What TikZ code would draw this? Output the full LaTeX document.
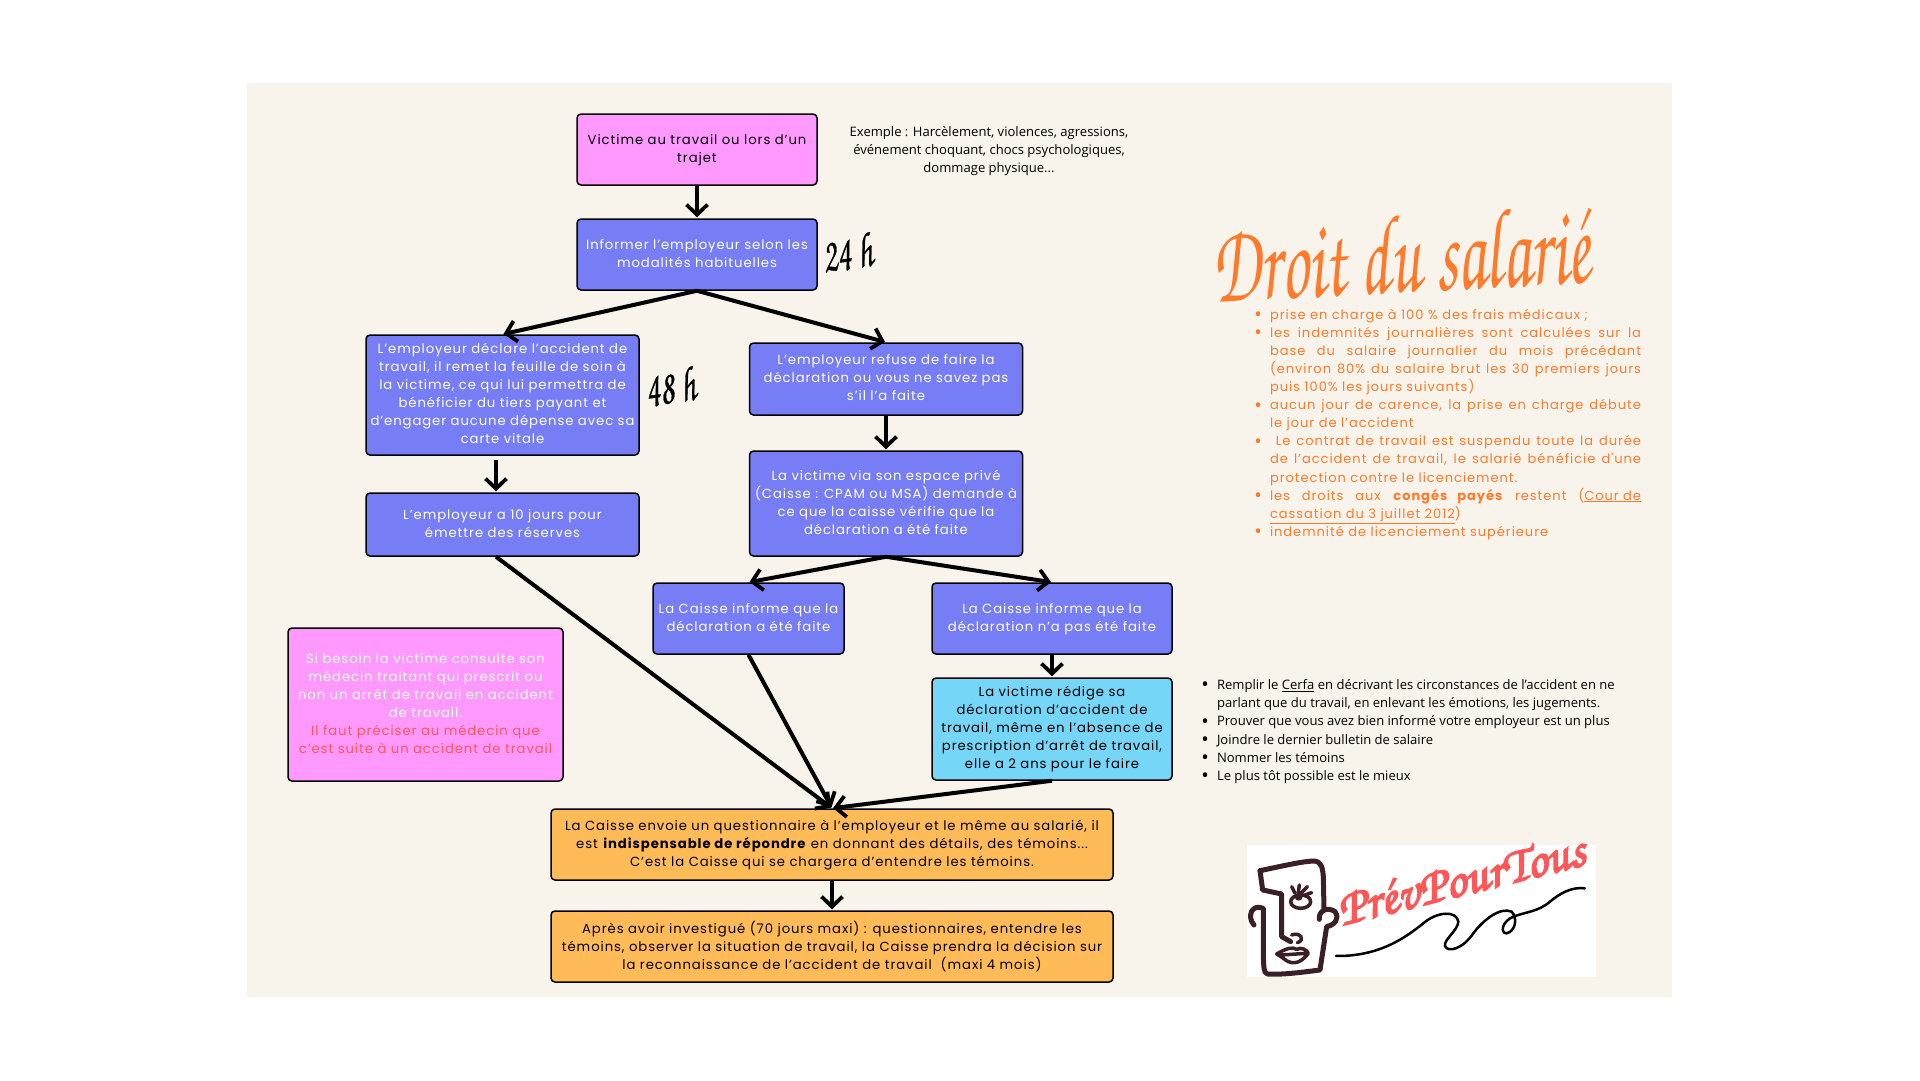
\documentclass[tikz,border=0pt]{standalone}
\usepackage[T1,TU]{fontenc}
\usepackage{fontspec}
\usetikzlibrary{arrows.meta,calc}
\newfontfamily\bxf[LetterSpace=7]{Poppins}
\newfontfamily\orf[LetterSpace=7.5]{Poppins}
\newfontfamily\osf{Open Sans}
\definecolor{cream}{HTML}{F8F4EC}
\definecolor{pinkb}{HTML}{FF99FF}
\definecolor{perib}{HTML}{767DF5}
\definecolor{blueb}{HTML}{75D6F7}
\definecolor{orab}{HTML}{FFBB57}
\definecolor{oratxt}{HTML}{FF7A2B}
\definecolor{coral}{HTML}{FF5757}
\definecolor{inkb}{HTML}{3A1F26}
\newcommand{\scriptfnt}{\fontencoding{T1}\fontfamily{pzc}\fontseries{mb}\fontshape{it}\selectfont}
\newcommand{\jline}[1]{\hbox to 371pt{\makebox[371pt][s]{#1}}}
\newcommand{\lline}[1]{\hbox to 371pt{#1\hfil}}
\newcommand{\bul}{\llap{\raisebox{-2.4pt}{\osf\fontsize{20}{20}\selectfont •}\hspace{8pt}}}
\newcommand{\stroked}[2]{\special{pdf:code 2 Tr #1 w}#2\special{pdf:code 0 Tr 1 w}}
\tikzset{
 x=1pt,y=-1pt,
 boxst/.style={draw=black,line width=1.5pt,rounded corners=4pt,inner sep=2pt,align=center,text depth=3pt,
   minimum width=#1,font=\bxf\fontsize{13.2}{18}\selectfont},
 flow/.style={line width=4pt,-{Straight Barb[length=10pt,width=21pt,line width=3.8pt]},shorten >=1pt},
 inkl/.style={draw=inkb,line width=5pt,line cap=round,line join=round},
 plainl/.style={inner sep=0pt,outer sep=0pt}
}
\begin{document}
\begin{tikzpicture}
\useasboundingbox (0,0) rectangle (1920,1080);
\fill[white] (0,0) rectangle (1920,1080);
\fill[cream] (247,83) rectangle (1672,997);
% boxes
\node[boxst=240pt,minimum height=71pt,fill=pinkb,text=black] (b1) at (697,149.5) {Victime au travail ou lors d’un\\trajet};
\node[boxst=240pt,minimum height=71pt,fill=perib,text=white] (b2) at (697,254.5) {Informer l’employeur selon les\\modalités habituelles};
\node[boxst=273pt,minimum height=120pt,fill=perib,text=white] (b3) at (502.5,395) {L’employeur déclare l’accident de\\travail, il remet la feuille de soin à\\la victime, ce qui lui permettra de\\bénéficier du tiers payant et\\d’engager aucune dépense avec sa\\carte vitale};
\node[boxst=273pt,minimum height=72pt,fill=perib,text=white] (b4) at (886,379) {L’employeur refuse de faire la\\déclaration ou vous ne savez pas\\s’il l’a faite};
\node[boxst=273pt,minimum height=105pt,fill=perib,text=white] (b5) at (886,503.5) {La victime via son espace privé\\(Caisse : CPAM ou MSA) demande à\\ce que la caisse vérifie que la\\déclaration a été faite};
\node[boxst=273pt,minimum height=63pt,fill=perib,text=white] (b6) at (502.5,524.5) {L’employeur a 10 jours pour\\émettre des réserves};
\node[boxst=191pt,minimum height=71pt,fill=perib,text=white] (b7) at (748.5,618.5) {La Caisse informe que la\\déclaration a été faite};
\node[boxst=240pt,minimum height=71pt,fill=perib,text=white] (b8) at (1052,618.5) {La Caisse informe que la\\déclaration n’a pas été faite};
\node[boxst=275pt,minimum height=153pt,fill=pinkb,text=white] (b9) at (425.5,704.5) {Si besoin la victime consulte son\\médecin traitant qui prescrit ou\\non un arrêt de travail en accident\\de travail.\\\textcolor{coral}{Il faut préciser au médecin que}\\\textcolor{coral}{c’est suite à un accident de travail}};
\node[boxst=240pt,minimum height=102pt,fill=blueb,text=black] (b10) at (1052,729) {La victime rédige sa\\déclaration d’accident de\\travail, même en l’absence de\\prescription d’arrêt de travail,\\elle a 2 ans pour le faire};
\node[boxst=562pt,minimum height=71pt,fill=orab,text=black] (b11) at (832,844.5) {La Caisse envoie un questionnaire à l’employeur et le même au salarié, il\\est \textbf{indispensable de répondre} en donnant des détails, des témoins...\\C’est la Caisse qui se chargera d’entendre les témoins.};
\node[boxst=562pt,minimum height=71pt,fill=orab,text=black] (b12) at (832,946.5) {Après avoir investigué (70 jours maxi) : questionnaires, entendre les\\témoins, observer la situation de travail, la Caisse prendra la décision sur\\la reconnaissance de l’accident de travail\ \ (maxi 4 mois)};
% connectors
\draw[flow] (b1.south) -- (b2.north);
\draw[flow] (b2.south) -- (b3.north);
\draw[flow] (b2.south) -- (b4.north);
\draw[flow] (b4.south) -- (b5.north);
\draw[flow] ([xshift=-6.5pt,yshift=-4pt]b3.south) -- ([xshift=-6.5pt]b6.north);
\draw[flow] (b5.south) -- (b7.north);
\draw[flow] (b5.south) -- (b8.north);
\draw[flow] (b8.south) -- (b10.north);
\draw[flow] ([xshift=-6.5pt]b6.south) -- (b11.north);
\draw[flow] (b7.south) -- (b11.north);
\draw[flow] (b10.south) -- (b11.north);
\draw[flow] (b11.south) -- (b12.north);
% free text
\node[plainl,align=center,font=\osf\fontsize{13.05}{18}\selectfont,text=black] (ex) at (989,151) {Exemple : Harcèlement, violences, agressions,\\événement choquant, chocs psychologiques,\\dommage physique...};
\node[plainl,rotate=8,text=black,xscale=.85,yscale=1.3,transform shape,font=\scriptfnt\fontsize{38}{38}\selectfont] (t24) at (847,252.5) {\stroked{0.3}{24 h}};
\node[plainl,rotate=8,text=black,xscale=.85,yscale=1.3,transform shape,font=\scriptfnt\fontsize{38}{38}\selectfont] (t48) at (670,386.5) {\stroked{0.3}{48 h}};
\node[plainl,rotate=3,text=oratxt,xscale=.865,yscale=1.45,transform shape,font=\scriptfnt\fontsize{78}{78}\selectfont] (title) at (1401,253) {Droit du salarié};
% orange list
\node[plainl,anchor=north west,text=oratxt] (olist) at (1270,309) {\vbox{\orf\fontsize{13}{18}\selectfont\baselineskip=18.1pt
\lline{\bul prise en charge à 100 \% des frais médicaux ;}
\jline{\bul les indemnités journalières sont calculées sur la}
\jline{base du salaire journalier du mois précédant}
\jline{(environ 80\% du salaire brut les 30 premiers jours}
\lline{puis 100\% les jours suivants)}
\jline{\bul aucun jour de carence, la prise en charge débute}
\lline{le jour de l’accident}
\jline{\bul\ Le contrat de travail est suspendu toute la durée}
\jline{de l’accident de travail, le salarié bénéficie d'une}
\lline{protection contre le licenciement.}
\jline{\bul les droits aux \textbf{congés payés} restent (\underline{Cour de}}
\lline{\underline{cassation du 3 juillet 2012})}
\lline{\bul indemnité de licenciement supérieure}
}};
% black list
\node[plainl,anchor=north west,text=black] (blist) at (1217,679.5) {\vbox{\osf\fontsize{13.05}{18}\selectfont\baselineskip=18.2pt
\hbox{\bul Remplir le \underline{Cerfa} en décrivant les circonstances de l’accident en ne}
\hbox{parlant que du travail, en enlevant les émotions, les jugements.}
\hbox{\bul Prouver que vous avez bien informé votre employeur est un plus}
\hbox{\bul Joindre le dernier bulletin de salaire}
\hbox{\bul Nommer les témoins}
\hbox{\bul Le plus tôt possible est le mieux}
}};
% logo
\fill[white] (1247,845) rectangle (1596,977);
\begin{scope}[shift={(1180,660)},x=0.3333pt,y=-0.3333pt]
\draw[inkl] (240,632) .. controls (300,620) and (360,605) .. (400,603) .. controls (425,603) and (428,625) .. (430,650) -- (432,745) (418,778) .. controls (415,750) and (445,740) .. (465,755) .. controls (480,775) and (465,795) .. (440,800) -- (420,930) .. controls (360,938) and (300,945) .. (262,942) .. controls (250,938) and (252,920) .. (250,890) -- (250,745) .. controls (215,730) and (200,770) .. (222,795);
\draw[inkl] (240,632) -- (248,690) -- (305,702) -- (305,830) -- (332,845);
\draw[draw=inkb,line width=3.5pt,line cap=round] (335,825) .. controls (360,815) and (378,840) .. (352,848);
\draw[draw=inkb,line width=3.5pt,line cap=round,line join=round] (290,882) .. controls (320,865) and (335,860) .. (350,868) .. controls (365,860) and (380,870) .. (385,880) .. controls (370,900) and (350,915) .. (325,905) .. controls (315,900) and (305,890) .. (290,882) (305,885) -- (380,880);
\draw[draw=inkb,line width=3.5pt] (362,725) ellipse [x radius=30,y radius=20];
\fill[inkb] (356,710) circle [radius=12];
\draw[draw=inkb,line width=3.5pt,line cap=round] (345,700) -- (335,680) (355,698) -- (358,675) (365,698) -- (382,680) (375,705) -- (395,698);
\draw[black,line width=2.5pt,line cap=round] (468,888) .. controls (600,890) and (680,830) .. (730,790) .. controls (770,755) and (830,750) .. (835,785) .. controls (835,810) and (790,840) .. (795,858) .. controls (805,880) and (850,865) .. (880,820) .. controls (910,780) and (960,740) .. (995,755) .. controls (1015,775) and (1005,815) .. (980,820) .. controls (960,820) and (965,785) .. (1000,770) .. controls (1040,755) and (1075,755) .. (1110,725) .. controls (1140,700) and (1175,680) .. (1215,685);
\end{scope}
\node[plainl,rotate=14,text=coral,font=\scriptfnt\fontsize{51}{51}\selectfont] (logo) at (1461,879) {\stroked{1.6}{PrévPourTous}};
\end{tikzpicture}
\end{document}
